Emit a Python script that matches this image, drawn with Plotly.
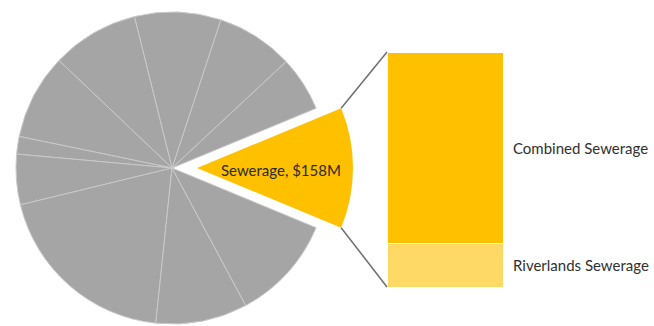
import math
import plotly.graph_objects as go

# Budget breakdown ($M): the first slice is Sewerage, the rest are other programs
slice_labels = ["Sewerage", "Program A", "Program B", "Program C", "Program D",
                "Program E", "Program F", "Program G", "Program H", "Program I",
                "Program J"]
slice_values = [158, 72, 101, 113, 114, 112, 23, 66, 247, 120, 138]

# Sewerage split shown in the stacked bar ($M)
bar_labels = ["Riverlands Sewerage", "Combined Sewerage"]
bar_values = [29.5, 128.5]

W, H = 654, 326
GRAY = "#a5a5a5"
GOLD = "#ffc000"
LIGHT_GOLD = "#ffd966"
FONT = "Lato"

# pie geometry in pixels
cx, cy, r = 172, 168, 156
explode = 25  # pixel offset of the highlighted slice

# bar position in pixels
bar_x0, bar_x1 = 387, 503
bar_top, bar_bottom = 52, 287


def px_to_paper(x, y):
    return x / W, 1 - y / H


fig = go.Figure()

# grey pie with an empty slot where the Sewerage slice sits
n = len(slice_values)
base_colors = ["rgba(0,0,0,0)"] + [GRAY] * (n - 1)
base_lines = [0] + [1] * (n - 1)
total = sum(slice_values)
half_angle = 180.0 * slice_values[0] / total  # degrees
# counterclockwise pies start the first slice at its counterclockwise edge
rotation = 90 - half_angle

fig.add_trace(go.Pie(
    labels=slice_labels, values=slice_values, sort=False,
    direction="counterclockwise", rotation=rotation,
    marker=dict(colors=base_colors, line=dict(color="#c9c9c9", width=base_lines)),
    textinfo="none", hoverinfo="label+value", showlegend=False,
    domain=dict(x=[(cx - r) / W, (cx + r) / W], y=[1 - (cy + r) / H, 1 - (cy - r) / H]),
))

# the Sewerage slice, drawn on its own shifted pie so it stands out
hl_colors = [GOLD] + ["rgba(0,0,0,0)"] * (n - 1)
ex = cx + explode
fig.add_trace(go.Pie(
    labels=slice_labels, values=slice_values, sort=False,
    direction="counterclockwise", rotation=rotation,
    marker=dict(colors=hl_colors, line=dict(width=0)),
    textinfo="none", hoverinfo="skip", showlegend=False,
    domain=dict(x=[(ex - r) / W, (ex + r) / W], y=[1 - (cy + r) / H, 1 - (cy - r) / H]),
))

# stacked bar for the Sewerage split
bar_colors = [LIGHT_GOLD, GOLD]
for lab, val, col in zip(bar_labels, bar_values, bar_colors):
    fig.add_trace(go.Bar(
        x=[0], y=[val], name=lab, width=1,
        marker=dict(color=col, line=dict(color="white", width=1)),
        xaxis="x2", yaxis="y2", showlegend=False, hoverinfo="name+y",
    ))

bar_total = sum(bar_values)
fig.update_layout(
    width=W, height=H, autosize=False,
    margin=dict(l=0, r=0, t=0, b=0),
    paper_bgcolor="white", plot_bgcolor="white",
    barmode="stack",
    xaxis2=dict(domain=[bar_x0 / W, bar_x1 / W], range=[-0.5, 0.5], visible=False,
                anchor="y2", fixedrange=True),
    yaxis2=dict(domain=[1 - bar_bottom / H, 1 - bar_top / H], range=[0, bar_total],
                visible=False, anchor="x2", fixedrange=True),
    xaxis=dict(visible=False), yaxis=dict(visible=False),
)

# labels beside the bar segments
annotations = []
base = 0
for lab, val in zip(bar_labels, bar_values):
    annotations.append(dict(
        text=lab, x=1, xref="x2 domain", y=base + val / 2, yref="y2",
        xanchor="left", yanchor="middle", xshift=8, showarrow=False,
        font=dict(family=FONT, size=15, color="#303030"),
    ))
    base += val

# label inside the highlighted slice
lx, ly = px_to_paper(ex + 0.54 * r, cy + 2)
annotations.append(dict(
    text=f"{slice_labels[0]}, ${slice_values[0]}M", x=lx, y=ly,
    xref="paper", yref="paper", xanchor="center", yanchor="middle",
    showarrow=False, font=dict(family=FONT, size=15, color="#2b2b2b"),
))
fig.update_layout(annotations=annotations)

# connector lines from the slice corners to the bar corners
a = math.radians(half_angle)
top_corner = (ex + r * math.cos(a), cy - r * math.sin(a))
bot_corner = (ex + r * math.cos(a), cy + r * math.sin(a))
shapes = []
for (sx, sy), (tx, ty) in [(top_corner, (bar_x0, bar_top)),
                           (bot_corner, (bar_x0, bar_bottom))]:
    x0, y0 = px_to_paper(sx, sy)
    x1, y1 = px_to_paper(tx, ty)
    shapes.append(dict(type="line", xref="paper", yref="paper",
                       x0=x0, y0=y0, x1=x1, y1=y1,
                       line=dict(color="#6e6e6e", width=1.5)))
fig.update_layout(shapes=shapes)

fig.write_html("out.html")
